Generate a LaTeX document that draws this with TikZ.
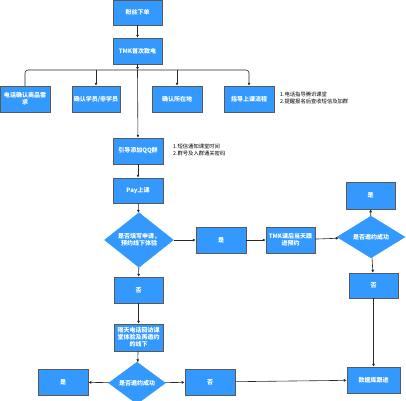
\documentclass[tikz,border=0pt]{standalone}
\usepackage{fontspec}
\setmainfont{Noto Sans CJK SC}
\usepackage{xcolor}
\definecolor{Col1}{RGB}{51,153,255}
\definecolor{Col2}{RGB}{40,40,40}
\usepackage{tikz}
\usetikzlibrary{shapes.geometric}
\usetikzlibrary{arrows.meta}
\tikzstyle{Box}=[rectangle,draw=gray!70!black,fill=Col1,line width=.5pt,
minimum width=49pt,minimum height=26pt,inner sep=1pt,text=white,align=center,
font=\fontsize{6}{7}\selectfont\bfseries]
\tikzstyle{Decision}=[diamond,draw=Col1,fill=Col1,inner sep=0pt,text=white,
align=center,font=\fontsize{6}{7}\selectfont\bfseries]
\tikzstyle{Note}=[anchor=west,align=left,inner sep=0pt,
font=\fontsize{5.3}{6.3}\selectfont]
\tikzstyle{Edge}=[draw=Col2,line width=.6pt,-{Latex[length=3pt,width=3pt]}]

\begin{document}
\begin{tikzpicture}[x=1pt,y=-1pt]
        \useasboundingbox(0,0)rectangle(406,400);
        \node[Box,minimum height=25pt](order)at(137.5,12.5){粉丝下单};
        \node[Box](tmk)at(137.5,51){TMK首次致电};
        \node[Box,minimum width=50pt](b1)at(25,99){电话确认商品需\\求};
        \node[Box,minimum width=48pt](b2)at(96,99){确认学员/非学员};
        \node[Box,minimum width=50pt](b3)at(177,99){确认所在地};
        \node[Box,minimum width=50pt](b4)at(249,99){指导上课流程};
        \node[Note](n1)at(280,98){1.电话指导腾讯课堂\\2.提醒报名后查收短信及加群};
        \node[Box,minimum width=50pt](qq)at(138,151){引导添加QQ群};
        \node[Note](n2)at(173,150){1.短信通知课堂时间\\2.群号及入群通关密码};
        \node[Box,minimum width=50pt,minimum height=25pt](pay)at(138,190.5){Pay上课};
        \node[Decision,minimum width=69pt,minimum height=36pt](d1)at(139,240){是否填写申请，\\预约线下体验};
        \node[Box,minimum width=50pt](yes1)at(221,240){是};
        \node[Box](tmk2)at(290.5,240){TMK课后当天跟\\进预约};
        \node[Decision,minimum width=68pt,minimum height=36pt](d2)at(371,237){是否邀约成功};
        \node[Box,minimum height=27pt](yes2)at(370.5,195.5){是};
        \node[Box,minimum height=25pt](no2)at(373.5,285.5){否};
        \node[Box](no1)at(138.5,290){否};
        \node[Box,minimum height=27pt](rev)at(138.5,337.5){隔天电话回访课\\堂体验及再邀约\\的线下};
        \node[Decision,minimum width=57pt,minimum height=32pt](d3)at(137,383){是否邀约成功};
        \node[Box,minimum width=50pt](yes3)at(63,382){是};
        \node[Box,minimum width=50pt](no3)at(210,382){否};
        \node[Box,minimum width=53pt](db)at(373.5,380){数据库跟进};
        \coordinate(bus)at(137.5,70);
        \draw[Edge](order)--(tmk);
        \draw[Edge](tmk)--(bus);
        \draw[Edge](bus)--(qq);
        \draw[Edge,rounded corners=3pt](b1.north)|-(bus)-|(b4.north);
        \draw[Edge](b2.north|-bus)--(b2.north);
        \draw[Edge](b3.north|-bus)--(b3.north);
        \draw[Edge](qq)--(pay);
        \draw[Edge](pay)--(d1);
        \draw[Edge](d1)--(yes1);
        \draw[Edge](yes1)--(tmk2);
        \draw[Edge](tmk2)--(d2);
        \draw[Edge](d2)--(yes2);
        \draw[Edge](d2)--(no2);
        \draw[Edge](no2)--(db);
        \draw[Edge](d1)--(no1);
        \draw[Edge](no1)--(rev);
        \draw[Edge](rev)--(d3);
        \draw[Edge](d3)--(yes3);
        \draw[Edge](d3)--(no3);
        \draw[Edge](no3)--(db);
    \end{tikzpicture}
\end{document}
